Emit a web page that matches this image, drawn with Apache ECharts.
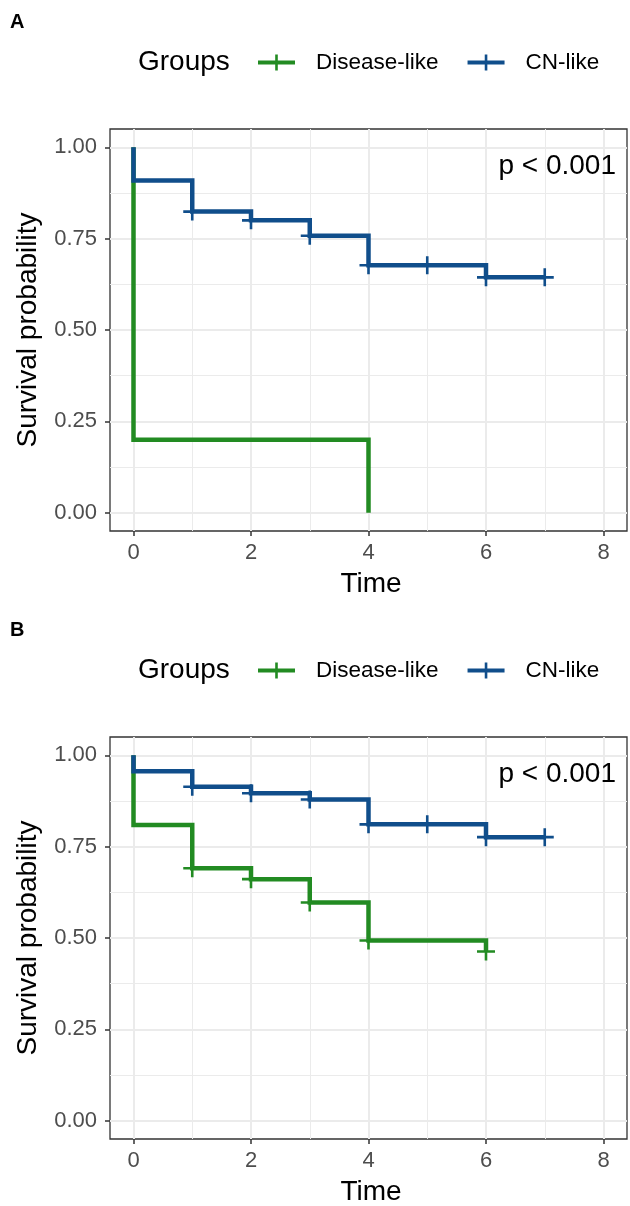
<!DOCTYPE html>
<html>
<head>
<meta charset="utf-8">
<script src="https://cdn.jsdelivr.net/npm/echarts@6/dist/echarts.min.js"></script>
<style>
  html, body { margin: 0; padding: 0; background: #fff; }
  #chart { width: 630px; height: 1206px; }
</style>
</head>
<body>
<div id="chart"></div>
<script>
// ---- data ----
const groupNames = ["Disease-like", "CN-like"];
const xTicks = [0, 2, 4, 6, 8];
const xMinor = [1, 3, 5, 7];
const yTicks = [0, 0.25, 0.5, 0.75, 1];
const yMinor = [0.125, 0.375, 0.625, 0.875];

// panel A
const timeA_dis = [0, 0, 4];
const survA_dis = [1, 0.2, 0];
const timeA_cn = [0, 0, 1, 2, 3, 4, 6, 7];
const survA_cn = [1, 0.909, 0.824, 0.80, 0.758, 0.677, 0.644, 0.644];
const censTimeA_cn = [1, 2, 3, 4, 5, 6, 7];
const censSurvA_cn = [0.824, 0.80, 0.758, 0.677, 0.677, 0.644, 0.644];

// panel B
const timeB_dis = [0, 0, 1, 2, 3, 4, 6];
const survB_dis = [1, 0.809, 0.691, 0.661, 0.597, 0.493, 0.463];
const censTimeB_dis = [1, 2, 3, 4, 6];
const censSurvB_dis = [0.691, 0.661, 0.597, 0.493, 0.463];
const timeB_cn = [0, 0, 1, 2, 3, 4, 6, 7];
const survB_cn = [1, 0.956, 0.914, 0.896, 0.879, 0.811, 0.776, 0.776];
const censTimeB_cn = [1, 2, 3, 4, 5, 6, 7];
const censSurvB_cn = [0.914, 0.896, 0.879, 0.811, 0.811, 0.776, 0.776];

const pText = "p < 0.001";

// ---- style ----
const FONT = "Liberation Sans";
const GREEN = "#228B22";
const BLUE = "#104E8B";
const PLUS = "path://M0,7.7H18V10.3H0Z M7.7,0H10.3V18H7.7Z";
const KEY = "path://M0,6H37V10H0Z M17.2,0H19.8V16H17.2Z";

const zip = (xs, ys) => xs.map((x, i) => [x, ys[i]]);

const panelTops = [129, 737];

const grids = panelTops.map((top) => ({
  left: 110, top: top, width: 517, height: 402,
  show: true, backgroundColor: "#fff",
  borderColor: "#333", borderWidth: 1.3
}));

const xAxes = [];
const yAxes = [];
panelTops.forEach((_, g) => {
  // major axis with ticks + labels
  xAxes.push({
    type: "value", gridIndex: g, min: -0.4, max: 8.4, position: "bottom",
    axisLine: { show: false, onZero: false },
    axisTick: { show: true, length: 5, customValues: xTicks, lineStyle: { color: "#333", width: 1.5 } },
    axisLabel: { customValues: xTicks, margin: 11, color: "#4D4D4D", fontSize: 22, fontFamily: FONT },
    splitLine: { show: true, lineStyle: { color: "#EBEBEB", width: 2 } }
  });
  // minor grid lines
  xAxes.push({
    type: "value", gridIndex: g, min: -0.4, max: 8.4, position: "bottom",
    axisLine: { show: false, onZero: false },
    axisTick: { show: false, customValues: xMinor },
    axisLabel: { show: false },
    splitLine: { show: true, lineStyle: { color: "#EBEBEB", width: 1 } }
  });
  yAxes.push({
    type: "value", gridIndex: g, min: -0.05, max: 1.05, position: "left",
    axisLine: { show: false, onZero: false },
    axisTick: { show: true, length: 5, customValues: yTicks, lineStyle: { color: "#333", width: 1.5 } },
    axisLabel: {
      customValues: yTicks, margin: 13, color: "#4D4D4D", fontSize: 22, fontFamily: FONT,
      formatter: (v) => v.toFixed(2)
    },
    splitLine: { show: true, lineStyle: { color: "#EBEBEB", width: 2 } }
  });
  yAxes.push({
    type: "value", gridIndex: g, min: -0.05, max: 1.05, position: "left",
    axisLine: { show: false, onZero: false },
    axisTick: { show: false, customValues: yMinor },
    axisLabel: { show: false },
    splitLine: { show: true, lineStyle: { color: "#EBEBEB", width: 1 } }
  });
});

const kmLine = (name, color, g, xs, ys) => ({
  name: name, type: "line", step: "end",
  xAxisIndex: g * 2, yAxisIndex: g * 2,
  data: zip(xs, ys), showSymbol: false, symbol: "none",
  color: color, itemStyle: { color: color },
  lineStyle: { color: color, width: 4.5, join: "miter", cap: "butt" },
  silent: true, z: 3
});

const censor = (name, color, g, xs, ys) => ({
  name: name, type: "scatter",
  xAxisIndex: g * 2, yAxisIndex: g * 2,
  data: zip(xs, ys), symbol: PLUS, symbolSize: 18,
  itemStyle: { color: color, opacity: 1 }, silent: true, z: 4
});

const series = [
  kmLine("Disease-like", GREEN, 0, timeA_dis, survA_dis),
  kmLine("CN-like", BLUE, 0, timeA_cn, survA_cn),
  censor("CN-like", BLUE, 0, censTimeA_cn, censSurvA_cn),
  kmLine("Disease-like", GREEN, 1, timeB_dis, survB_dis),
  kmLine("CN-like", BLUE, 1, timeB_cn, survB_cn),
  censor("Disease-like", GREEN, 1, censTimeB_dis, censSurvB_dis),
  censor("CN-like", BLUE, 1, censTimeB_cn, censSurvB_cn)
];

const legends = panelTops.map((top) => ({
  data: groupNames, left: 253, top: top - 83, orient: "horizontal",
  icon: KEY, itemWidth: 37, itemHeight: 16, itemGap: 29,
  selectedMode: false,
  textStyle: { fontSize: 22.5, fontFamily: FONT, color: "#000", padding: [0, 0, 0, 16] }
}));

const graphics = [];
["A", "B"].forEach((lab, g) => {
  const top = panelTops[g];
  const shift = top - panelTops[0];
  graphics.push(
    { type: "text", x: 10, y: 22 + shift, style: { text: lab, font: "bold 20px " + FONT, fill: "#000", verticalAlign: "middle" } },
    { type: "text", x: 138, y: 62 + shift, style: { text: "Groups", font: "28px " + FONT, fill: "#000", verticalAlign: "middle" } },
    { type: "text", x: 616, y: 166 + shift, z: 10, style: { text: pText, font: "28px " + FONT, fill: "#000", align: "right", verticalAlign: "middle" } },
    { type: "text", x: 371, y: 584 + shift, style: { text: "Time", font: "28px " + FONT, fill: "#000", align: "center", verticalAlign: "middle" } },
    { type: "text", x: 28, y: 330 + shift, rotation: Math.PI / 2, style: { text: "Survival probability", font: "28px " + FONT, fill: "#000", align: "center", verticalAlign: "middle" } }
  );
});

const chart = echarts.init(document.getElementById("chart"), null, { renderer: "canvas" });
chart.setOption({
  animation: false,
  backgroundColor: "#fff",
  grid: grids,
  xAxis: xAxes,
  yAxis: yAxes,
  legend: legends,
  series: series,
  graphic: graphics
});
</script>
</body>
</html>
